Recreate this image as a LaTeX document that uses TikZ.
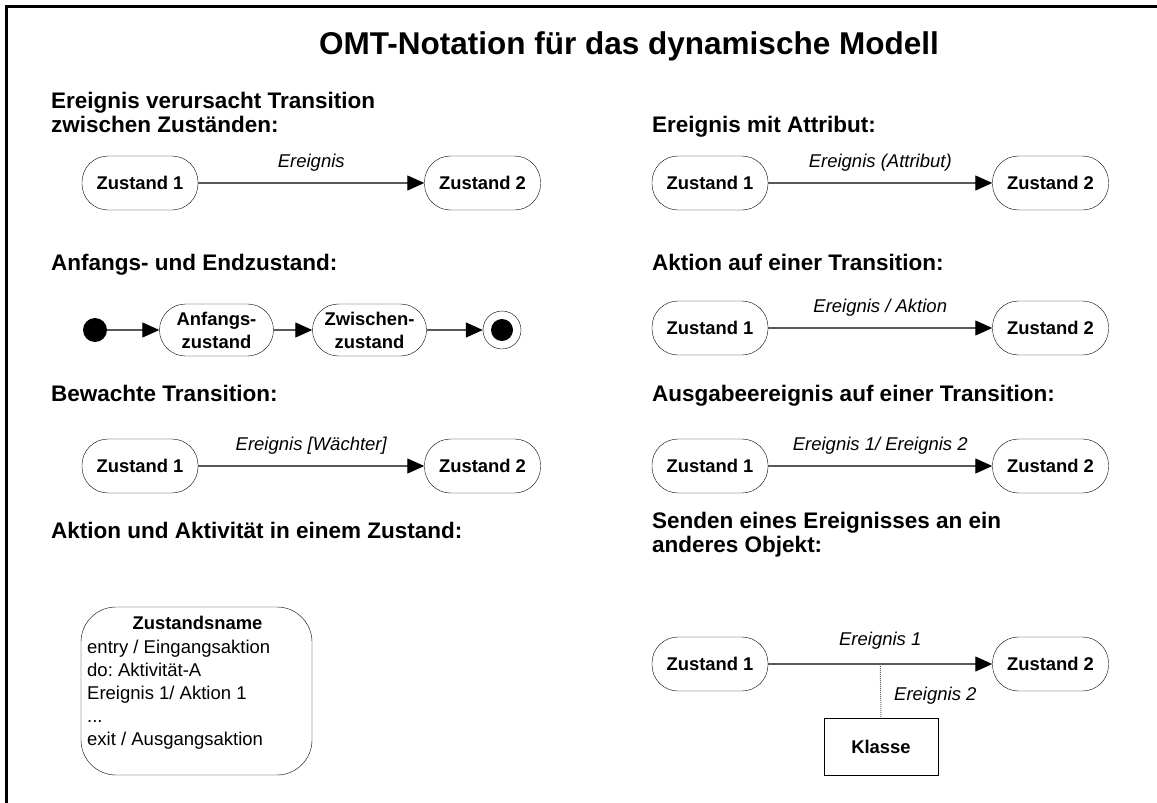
\documentclass[tikz,border=0pt]{standalone}
\usepackage{fontspec}
\setmainfont{Liberation Sans}
\usepackage{tikz}
\usetikzlibrary{arrows.meta,positioning,calc}
\newcommand{\pxfont}[2]{\fontsize{#1}{#2}\selectfont}
\frenchspacing

\begin{document}
\begin{tikzpicture}[
  x=1pt,y=-1pt,
  state/.style={draw,rounded corners=26pt,minimum width=116pt,minimum height=54pt,
                inner sep=0pt,align=center,font=\bfseries\pxfont{18.4}{23}},
  trans/.style={-{Triangle[length=17pt,width=15pt,color=black]},line width=1.1pt,draw=black!65},
  lbl/.style={font=\itshape\pxfont{18.5}{21},inner sep=0pt},
  head/.style={font=\bfseries\pxfont{22.5}{23.5},inner sep=0pt,align=left},
  txt/.style={font=\pxfont{18.5}{23},inner sep=0pt,align=left}
]
\useasboundingbox (0,0) rectangle (1157,803);
% frame
\draw[line width=3pt] (6,803) -- (6,6) -- (1157,6);
% title
\node[font=\bfseries\pxfont{31.5}{36},inner sep=0pt] (title) at (629,46)
  {OMT-Notation für das dynamische Modell};

% Ereignis verursacht Transition
\node[head,anchor=north west] (h1) at (51,92)
  {Ereignis verursacht Transition\\zwischen Zuständen:};
\node[state] (a1) at (140,183) {Zustand 1};
\node[state] (a2) at (482.5,183) {Zustand 2};
\draw[trans] (a1) -- node[lbl,above=11pt] (ea) {Ereignis} (a2);

% Ereignis mit Attribut
\node[head,anchor=base west] (h2) at (652,132) {Ereignis mit Attribut:};
\node[state] (b1) at (710,183) {Zustand 1};
\node[state] (b2) at (1050.5,183) {Zustand 2};
\draw[trans] (b1) -- node[lbl,above=11pt] (eb) {Ereignis (Attribut)} (b2);

% Anfangs- und Endzustand
\node[head,anchor=base west] (h3) at (51,270) {Anfangs- und Endzustand:};
\node[circle,fill,minimum size=24pt,inner sep=0pt] (start) at (95,330) {};
\node[state,minimum width=114pt,minimum height=52pt] (anf) at (216.5,330) {Anfangs-\\zustand};
\node[state,minimum width=114pt,minimum height=52pt] (zw) at (369.5,330) {Zwischen-\\zustand};
\node[circle,draw,minimum size=38pt,inner sep=0pt] (final) at (502,330) {};
\fill (final) circle (11);
\draw[trans] (start) -- (anf);
\draw[trans] (anf) -- (zw);
\draw[trans] (zw) -- (final);

% Aktion auf einer Transition
\node[head,anchor=base west] (h4) at (652,270) {Aktion auf einer Transition:};
\node[state] (c1) at (710,328) {Zustand 1};
\node[state] (c2) at (1050.5,328) {Zustand 2};
\draw[trans] (c1) -- node[lbl,above=11pt] (ec) {Ereignis / Aktion} (c2);

% Bewachte Transition
\node[head,anchor=base west] (h5) at (51,401) {Bewachte Transition:};
\node[state] (d1) at (140,466) {Zustand 1};
\node[state] (d2) at (482.5,466) {Zustand 2};
\draw[trans] (d1) -- node[lbl,above=11pt] (ed) {Ereignis [Wächter]} (d2);

% Ausgabeereignis
\node[head,anchor=base west] (h6) at (652,401) {Ausgabeereignis auf einer Transition:};
\node[state] (f1) at (710,466) {Zustand 1};
\node[state] (f2) at (1050.5,466) {Zustand 2};
\draw[trans] (f1) -- node[lbl,above=11pt] (ef) {Ereignis 1/ Ereignis 2} (f2);

% Aktion und Aktivitaet in einem Zustand
\node[head,anchor=base west] (h7) at (51,538) {Aktion und Aktivität in einem Zustand:};
\node[draw,rounded corners=35pt,minimum width=231pt,minimum height=168pt] (akt) at (196.5,691) {};
\node[font=\bfseries\pxfont{18.4}{21},inner sep=0pt] (aktname) at (197.5,623) {Zustandsname};
\node[txt,anchor=north west] (aktlist) at (87,640)
  {entry / Eingangsaktion\\do: Aktivität-A\\Ereignis 1/ Aktion 1\\...\\exit / Ausgangsaktion};

% Senden eines Ereignisses
\node[head,anchor=north west] (h8) at (652,512)
  {Senden eines Ereignisses an ein\\anderes Objekt:};
\node[state] (g1) at (710,664) {Zustand 1};
\node[state] (g2) at (1050.5,664) {Zustand 2};
\draw[trans] (g1) -- node[lbl,above=14pt] (eg) {Ereignis 1} coordinate[midway] (gm) (g2);
\node[draw,minimum width=114pt,minimum height=57pt,font=\bfseries\pxfont{18.4}{21}] (kl) at (881,746.5) {Klasse};
\draw[black!60,line width=1pt,dash pattern=on 1pt off 1pt] (gm) -- (kl.north);
\node[lbl,anchor=west] (eg2) at (894,696) {Ereignis 2};
\end{tikzpicture}
\end{document}
